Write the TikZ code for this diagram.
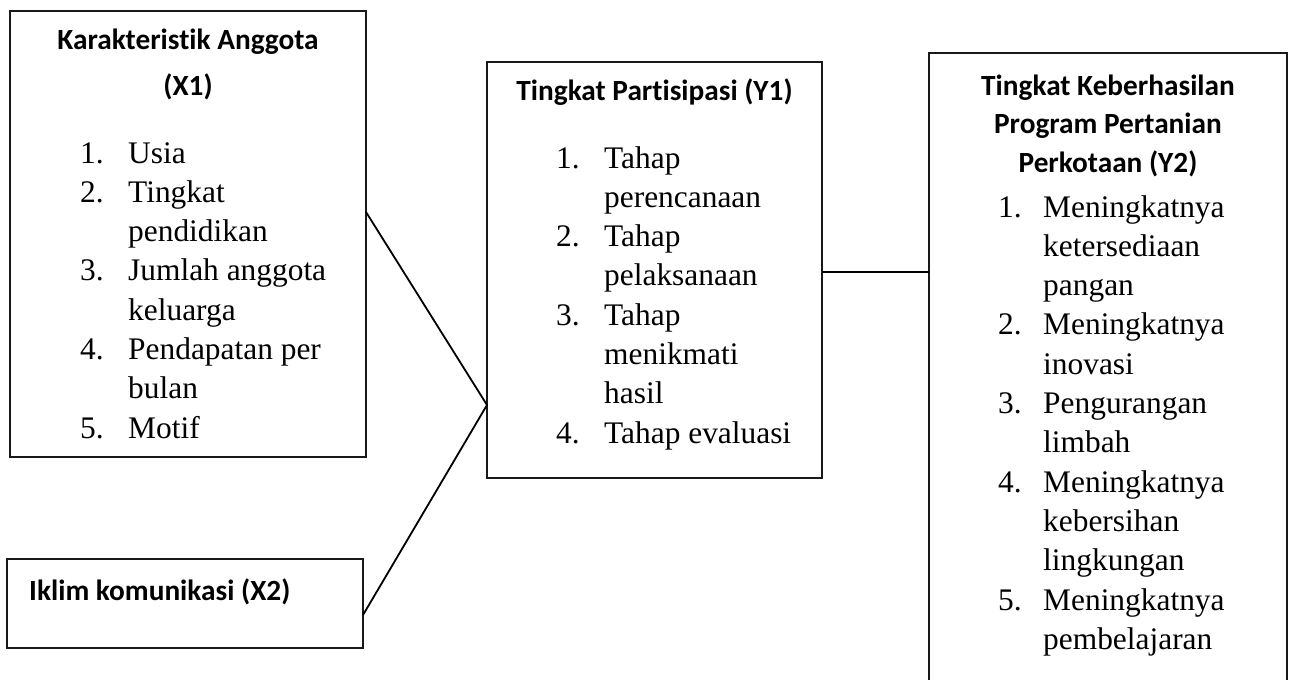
\documentclass[tikz,border=0pt]{standalone}
\usepackage{fontspec}
\newfontfamily\HeadFam{Carlito}[Ligatures=NoCommon]
\newfontfamily\ItemFam{Liberation Serif}
\newcommand\HeadF{\HeadFam\bfseries\fontsize{29.3}{33}\selectfont}
\newcommand\ItemF{\ItemFam\fontsize{31.4}{36}\selectfont}
\begin{document}
\begin{tikzpicture}[x=1pt,y=-1pt,
  box/.style={draw=black!90, line width=2pt, inner sep=0pt, outer sep=0pt, anchor=north west},
  head/.style={font=\HeadF, anchor=base, inner sep=0pt},
  headl/.style={font=\HeadF, anchor=base west, inner sep=0pt},
  item/.style={font=\ItemF, anchor=base west, inner sep=0pt},
  link/.style={line width=1.8pt, black}]
\clip (0,0) rectangle (1291,680);
% boxes
\node[box, minimum width=356pt, minimum height=446pt] (x1) at (10,11) {};
\node[box, minimum width=356pt, minimum height=89pt] (x2) at (7,559) {};
\node[box, minimum width=335pt, minimum height=416pt] (y1) at (487,62) {};
\node[box, minimum width=358pt, minimum height=650pt] (y2) at (929,53) {};
% X1
\node[head] (x1h1) at (188,49) {Karakteristik Anggota};
\node[head] (x1h2) at (188,95) {(X1)};
\foreach \t [count=\k from 0] in {Usia,Tingkat,pendidikan,Jumlah anggota,keluarga,Pendapatan per,bulan,Motif}
  \node[item] (x1t\k) at (128,{163+39.3*\k}) {\t};
\foreach \n/\k in {1/0,2/1,3/3,4/5,5/7}
  \node[item] (x1n\n) at (80,{163+39.3*\k}) {\n.};
% X2
\node[headl] (x2h) at (29,600) {Iklim komunikasi (X2)};
% Y1
\node[head] (y1h) at (654.5,100) {Tingkat Partisipasi (Y1)};
\foreach \t [count=\k from 0] in {Tahap,perencanaan,Tahap,pelaksanaan,Tahap,menikmati,hasil,Tahap evaluasi}
  \node[item] (y1t\k) at (604,{168+39.3*\k}) {\t};
\foreach \n/\k in {1/0,2/2,3/4,4/7}
  \node[item] (y1n\n) at (556,{168+39.3*\k}) {\n.};
% Y2
\node[head] (y2h1) at (1108,95) {Tingkat Keberhasilan};
\node[head] (y2h2) at (1108,133.5) {Program Pertanian};
\node[head] (y2h3) at (1108,172) {Perkotaan (Y2)};
\foreach \t [count=\k from 0] in {Meningkatnya,ketersediaan,pangan,Meningkatnya,inovasi,Pengurangan,limbah,Meningkatnya,kebersihan,lingkungan,Meningkatnya,pembelajaran}
  \node[item] (y2t\k) at (1043,{217+39.3*\k}) {\t};
\foreach \n/\k in {1/0,2/3,3/5,4/7,5/10}
  \node[item] (y2n\n) at (998,{217+39.3*\k}) {\n.};
% connectors
\coordinate (join) at (y1.west |- 0,405);
\draw[link] (x1.east |- 0,212) -- (join);
\draw[link] (x2.east |- 0,615) -- (join);
\draw[link] (y1.east |- 0,272) -- (y2.west |- 0,272);
\end{tikzpicture}
\end{document}
